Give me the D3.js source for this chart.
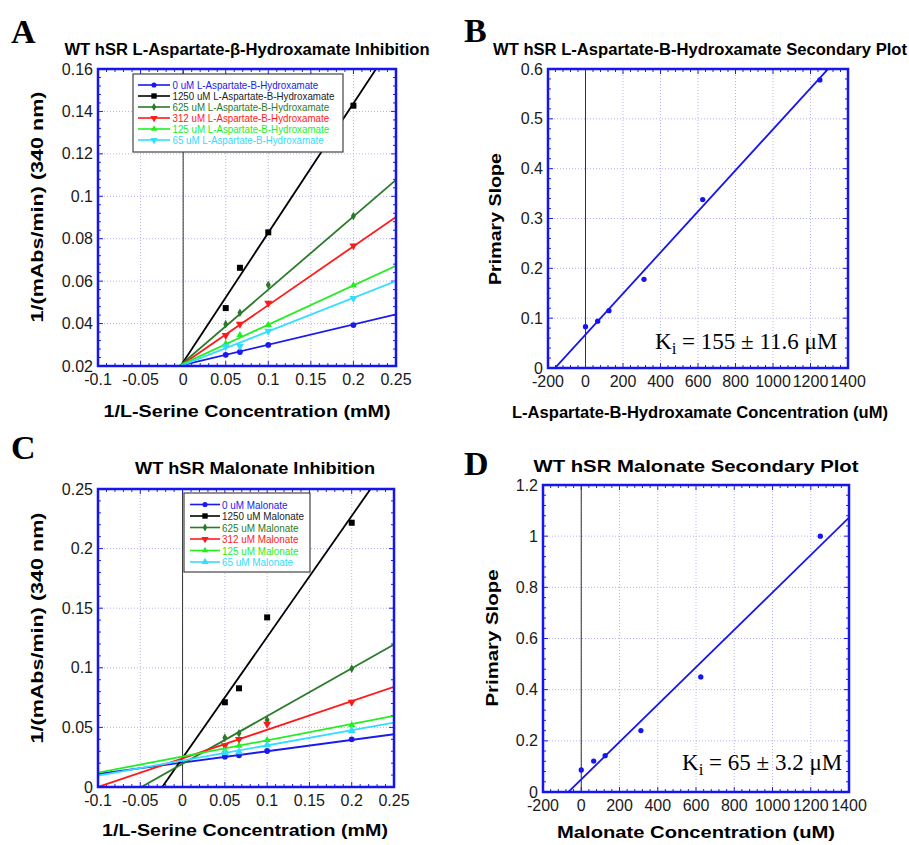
<!DOCTYPE html>
<html>
<head>
<meta charset="utf-8">
<script src="https://cdn.jsdelivr.net/npm/d3@7"></script>
<style>
  body { margin: 0; background: #fff; }
  text { font-family: "Liberation Sans", Arial, sans-serif; }
</style>
</head>
<body>
<script>
// ---- data ----
const invSerine = [0.05, 0.0667, 0.1, 0.2];   // 1/[L-Serine] (mM^-1)
const inhibConc = [0, 1250, 625, 312, 125, 65]; // legend order

// Panel A: L-Aspartate-beta-Hydroxamate, 1/v values
const aspY0    = [0.0253, 0.0266, 0.0299, 0.0393];
const aspY1250 = [0.0473, 0.0663, 0.0830, 0.1427];
const aspY625  = [0.0397, 0.0451, 0.0582, 0.0907];
const aspY312  = [0.0345, 0.0398, 0.0497, 0.0767];
const aspY125  = [0.0305, 0.0346, 0.0393, 0.0580];
const aspY65   = [0.0291, 0.0294, 0.0365, 0.0519];
const aspFitIntercept = [0.0205, 0.0218, 0.0215, 0.0210, 0.0210, 0.0205];
const aspFitSlope     = [0.0955, 0.610, 0.345, 0.277, 0.185, 0.158];

// Panel C: Malonate, 1/v values
const malY0    = [0.0254, 0.0266, 0.0302, 0.0400];
const malY1250 = [0.0711, 0.0828, 0.1423, 0.2217];
const malY625  = [0.0414, 0.0450, 0.0562, 0.0993];
const malY312  = [0.0347, 0.0400, 0.0528, 0.0713];
const malY125  = [0.0305, 0.0347, 0.0394, 0.0520];
const malY65   = [0.0288, 0.0294, 0.0352, 0.0473];
const malFitIntercept = [0.0205, 0.0244, 0.0195, 0.0240, 0.0256, 0.0222];
const malFitSlope     = [0.095, 1.015, 0.400, 0.240, 0.136, 0.127];

// Secondary plots
const secConc = [0, 65, 125, 312, 625, 1250];
const aspPrimarySlope = [0.083, 0.094, 0.115, 0.178, 0.338, 0.578];
const malPrimarySlope = [0.086, 0.121, 0.142, 0.240, 0.450, 1.000];
const aspSecFit = [0.067, 0.000412];   // intercept, slope
const malSecFit = [0.0493, 0.000731];

// tick labels
const serineTicks = [-0.1, -0.05, 0, 0.05, 0.1, 0.15, 0.2, 0.25];
const aspYTicks = [0.02, 0.04, 0.06, 0.08, 0.1, 0.12, 0.14, 0.16];
const malYTicks = [0, 0.05, 0.1, 0.15, 0.2, 0.25];
const concTicks = [-200, 0, 200, 400, 600, 800, 1000, 1200, 1400];
const aspSecYTicks = [0, 0.1, 0.2, 0.3, 0.4, 0.5, 0.6];
const malSecYTicks = [0, 0.2, 0.4, 0.6, 0.8, 1, 1.2];

const seriesColors = ["#1a1aee", "#000000", "#2a7a2a", "#ff1a1a", "#22ee22", "#33ddff"];
const fmt = d => String(+d.toFixed(4));

const svg = d3.select("body").append("svg")
  .attr("width", 909).attr("height", 845);

let clipId = 0;

function fitText(sel, len) {
  sel.attr("textLength", len).attr("lengthAdjust", "spacingAndGlyphs");
}

function drawPanel(cfg) {
  const [x0, y0, x1, y1] = cfg.box;
  const x = d3.scaleLinear().domain(cfg.xDomain).range([x0, x1]);
  const y = d3.scaleLinear().domain(cfg.yDomain).range([y1, y0]);
  const g = svg.append("g");

  // grid
  g.selectAll(".gx").data(cfg.xTicks.slice(1, -1)).enter().append("line")
    .attr("x1", d => x(d)).attr("x2", d => x(d)).attr("y1", y0).attr("y2", y1)
    .attr("stroke", "#b4b4f2").attr("stroke-dasharray", "1,2");
  g.selectAll(".gy").data(cfg.yTicks.slice(1, -1)).enter().append("line")
    .attr("y1", d => y(d)).attr("y2", d => y(d)).attr("x1", x0).attr("x2", x1)
    .attr("stroke", "#b4b4f2").attr("stroke-dasharray", "1,2");

  // zero line
  g.append("line").attr("x1", x(0)).attr("x2", x(0)).attr("y1", y0).attr("y2", y1)
    .attr("stroke", "#333").attr("stroke-width", 1);

  // minor/major ticks, inward
  const xs = cfg.xTicks, ys = cfg.yTicks;
  const xStep = (xs[1] - xs[0]) / 5, yStep = (ys[1] - ys[0]) / 5;
  const xMinor = d3.range(0, Math.round((xs[xs.length - 1] - xs[0]) / xStep) + 1).map(i => xs[0] + i * xStep);
  const yMinor = d3.range(0, Math.round((ys[ys.length - 1] - ys[0]) / yStep) + 1).map(i => ys[0] + i * yStep);
  const tickCol = "#2222dd";
  xMinor.forEach((v, i) => {
    const len = i % 5 === 0 ? 5 : 3;
    g.append("line").attr("x1", x(v)).attr("x2", x(v)).attr("y1", y1).attr("y2", y1 - len).attr("stroke", tickCol);
    g.append("line").attr("x1", x(v)).attr("x2", x(v)).attr("y1", y0).attr("y2", y0 + len).attr("stroke", tickCol);
  });
  yMinor.forEach((v, i) => {
    const len = i % 5 === 0 ? 5 : 3;
    g.append("line").attr("y1", y(v)).attr("y2", y(v)).attr("x1", x0).attr("x2", x0 + len).attr("stroke", tickCol);
    g.append("line").attr("y1", y(v)).attr("y2", y(v)).attr("x1", x1).attr("x2", x1 - len).attr("stroke", tickCol);
  });

  // clip
  const id = "clip" + (clipId++);
  svg.append("clipPath").attr("id", id).append("rect")
    .attr("x", x0).attr("y", y0).attr("width", x1 - x0).attr("height", y1 - y0);
  const plot = g.append("g").attr("clip-path", `url(#${id})`);

  // fit lines
  cfg.fits.forEach(f => {
    plot.append("line")
      .attr("x1", x(cfg.xDomain[0])).attr("y1", y(f.b + f.m * cfg.xDomain[0]))
      .attr("x2", x(cfg.xDomain[1])).attr("y2", y(f.b + f.m * cfg.xDomain[1]))
      .attr("stroke", f.color).attr("stroke-width", 1.8);
  });

  // points
  cfg.series.forEach(s => {
    plot.selectAll(null).data(s.xs.map((v, i) => [v, s.ys[i]])).enter().append("path")
      .attr("d", d3.symbol().type(s.symbol).size(s.size))
      .attr("transform", d => `translate(${x(d[0])},${y(d[1])}) rotate(${s.rot || 0})`)
      .attr("fill", s.color);
  });

  // frame
  g.append("rect").attr("x", x0).attr("y", y0).attr("width", x1 - x0).attr("height", y1 - y0)
    .attr("fill", "none").attr("stroke", "#1515ee").attr("stroke-width", 2.5);

  // tick labels
  g.selectAll(".tx").data(xs).enter().append("text")
    .attr("x", d => x(d)).attr("y", y1 + 19).attr("text-anchor", "middle")
    .attr("font-size", 16).attr("fill", "#1a1a1a").text(fmt);
  g.selectAll(".ty").data(ys).enter().append("text")
    .attr("x", x0 - 5).attr("y", d => y(d) + 5.5).attr("text-anchor", "end")
    .attr("font-size", 16).attr("fill", "#1a1a1a").text(fmt);

  // title + labels
  svg.append("text").attr("x", cfg.title.cx).attr("y", cfg.title.y).attr("text-anchor", "middle")
    .attr("font-size", 16).attr("font-weight", "bold").text(cfg.title.text)
    .call(fitText, cfg.title.len);
  svg.append("text").attr("x", cfg.xlabel.cx).attr("y", cfg.xlabel.y).attr("text-anchor", "middle")
    .attr("font-size", 17).attr("font-weight", "bold").text(cfg.xlabel.text)
    .call(fitText, cfg.xlabel.len);
  svg.append("text")
    .attr("transform", `translate(${cfg.ylabel.x},${cfg.ylabel.cy}) rotate(-90)`)
    .attr("text-anchor", "middle").attr("dominant-baseline", "central")
    .attr("font-size", 17).attr("font-weight", "bold").text(cfg.ylabel.text)
    .call(fitText, cfg.ylabel.len);

  // panel letter
  svg.append("text").attr("x", cfg.letter.x).attr("y", cfg.letter.y)
    .style("font-family", "'Liberation Serif', 'Times New Roman', serif")
    .attr("font-size", 34).attr("font-weight", "bold").text(cfg.letter.text);

  return { x, y };
}

const symbols = [d3.symbolCircle, d3.symbolSquare, d3.symbolDiamond, d3.symbolTriangle, d3.symbolTriangle, d3.symbolTriangle];
const symSizes = [26, 36, 22, 28, 22, 28];

function kineticSeries(ysList, rotations) {
  return ysList.map((ys, i) => ({
    xs: invSerine, ys, color: seriesColors[i], symbol: symbols[i], size: symSizes[i], rot: rotations[i]
  }));
}

function legend(box, names, rows, lineX, textX, fontSize, longestWidth, rotations) {
  const g = svg.append("g");
  g.append("rect").attr("x", box[0]).attr("y", box[1]).attr("width", box[2] - box[0]).attr("height", box[3] - box[1])
    .attr("fill", "#fff").attr("stroke", "#444").attr("stroke-width", 1.2);
  const labels = [];
  names.forEach((n, i) => {
    const yy = rows[0] + i * rows[1];
    g.append("line").attr("x1", lineX[0]).attr("x2", lineX[1]).attr("y1", yy).attr("y2", yy)
      .attr("stroke", seriesColors[i]).attr("stroke-width", 1.6);
    g.append("path").attr("d", d3.symbol().type(symbols[i]).size(symSizes[i] * 0.8))
      .attr("transform", `translate(${(lineX[0] + lineX[1]) / 2},${yy}) rotate(${rotations[i]})`)
      .attr("fill", seriesColors[i]);
    labels.push(g.append("text").attr("x", textX).attr("y", yy + 4).attr("font-size", fontSize)
      .attr("fill", i === 1 ? "#222" : seriesColors[i]).text(n));
  });
  // condense the labels so the longest one has the width seen in the figure
  const widths = labels.map(t => t.node().getComputedTextLength());
  const k = longestWidth / d3.max(widths);
  labels.forEach((t, i) => fitText(t, widths[i] * k));
}

function kiLabel(x, yb, value) {
  const t = svg.append("text").attr("x", x).attr("y", yb)
    .style("font-family", "'Liberation Serif', 'Times New Roman', serif").attr("font-size", 23);
  t.append("tspan").text("K");
  t.append("tspan").attr("dy", 5).attr("font-size", 17).text("i");
  t.append("tspan").attr("dy", -5).text(" = " + value);
}

// ---- Panel A ----
const rotA = [0, 0, 0, 180, 0, 180];
drawPanel({
  box: [98, 69, 396, 366], xDomain: [-0.1, 0.25], yDomain: [0.02, 0.16],
  xTicks: serineTicks, yTicks: aspYTicks,
  fits: aspFitIntercept.map((b, i) => ({ b, m: aspFitSlope[i], color: seriesColors[i] })),
  series: kineticSeries([aspY0, aspY1250, aspY625, aspY312, aspY125, aspY65], rotA),
  title: { text: "WT hSR L-Aspartate-\u03b2-Hydroxamate Inhibition", cx: 247, y: 55, len: 365 },
  xlabel: { text: "1/L-Serine Concentration (mM)", cx: 247, y: 417, len: 287 },
  ylabel: { text: "1/(mAbs/min) (340 nm)", x: 37, cy: 207, len: 231 },
  letter: { text: "A", x: 11, y: 43 }
});
legend([133, 74, 343, 152], inhibConc.map(c => c + " uM L-Aspartate-B-Hydroxamate"),
  [85, 11], [138, 170], 172.5, 11, 162, rotA);

// ---- Panel B ----
drawPanel({
  box: [548, 69, 848, 368], xDomain: [-200, 1400], yDomain: [0, 0.6],
  xTicks: concTicks, yTicks: aspSecYTicks,
  fits: [{ b: aspSecFit[0], m: aspSecFit[1], color: "#1515ee" }],
  series: [{ xs: secConc, ys: aspPrimarySlope, color: "#1515ee", symbol: d3.symbolCircle, size: 22 }],
  title: { text: "WT hSR L-Aspartate-B-Hydroxamate Secondary Plot", cx: 700, y: 55, len: 414 },
  xlabel: { text: "L-Aspartate-B-Hydroxamate Concentration (uM)", cx: 700, y: 418, len: 376 },
  ylabel: { text: "Primary Slope", x: 495, cy: 219, len: 132 },
  letter: { text: "B", x: 464, y: 42 }
});
kiLabel(655, 349, "155 \u00b1 11.6 \u03bcM");

// ---- Panel C ----
const rotC = [0, 0, 0, 180, 0, 0];
drawPanel({
  box: [98, 489, 394, 787], xDomain: [-0.1, 0.25], yDomain: [0, 0.25],
  xTicks: serineTicks, yTicks: malYTicks,
  fits: malFitIntercept.map((b, i) => ({ b, m: malFitSlope[i], color: seriesColors[i] })),
  series: kineticSeries([malY0, malY1250, malY625, malY312, malY125, malY65], rotC),
  title: { text: "WT hSR Malonate Inhibition", cx: 255, y: 474, len: 240 },
  xlabel: { text: "1/L-Serine Concentration (mM)", cx: 245, y: 836, len: 286 },
  ylabel: { text: "1/(mAbs/min) (340 nm)", x: 37, cy: 628, len: 231 },
  letter: { text: "C", x: 11, y: 459 }
});
legend([184, 493, 310, 572], inhibConc.map(c => c + " uM Malonate"),
  [504.5, 11.5], [190, 220], 222, 11.5, 82, rotC);

// ---- Panel D ----
drawPanel({
  box: [543, 485, 849, 792], xDomain: [-200, 1400], yDomain: [0, 1.2],
  xTicks: concTicks, yTicks: malSecYTicks,
  fits: [{ b: malSecFit[0], m: malSecFit[1], color: "#1515ee" }],
  series: [{ xs: secConc, ys: malPrimarySlope, color: "#1515ee", symbol: d3.symbolCircle, size: 22 }],
  title: { text: "WT hSR Malonate Secondary Plot", cx: 696, y: 472, len: 325 },
  xlabel: { text: "Malonate Concentration (uM)", cx: 696, y: 838, len: 278 },
  ylabel: { text: "Primary Slope", x: 492, cy: 638, len: 137 },
  letter: { text: "D", x: 464, y: 475 }
});
kiLabel(682, 770, "65 \u00b1 3.2 \u03bcM");
</script>
</body>
</html>
